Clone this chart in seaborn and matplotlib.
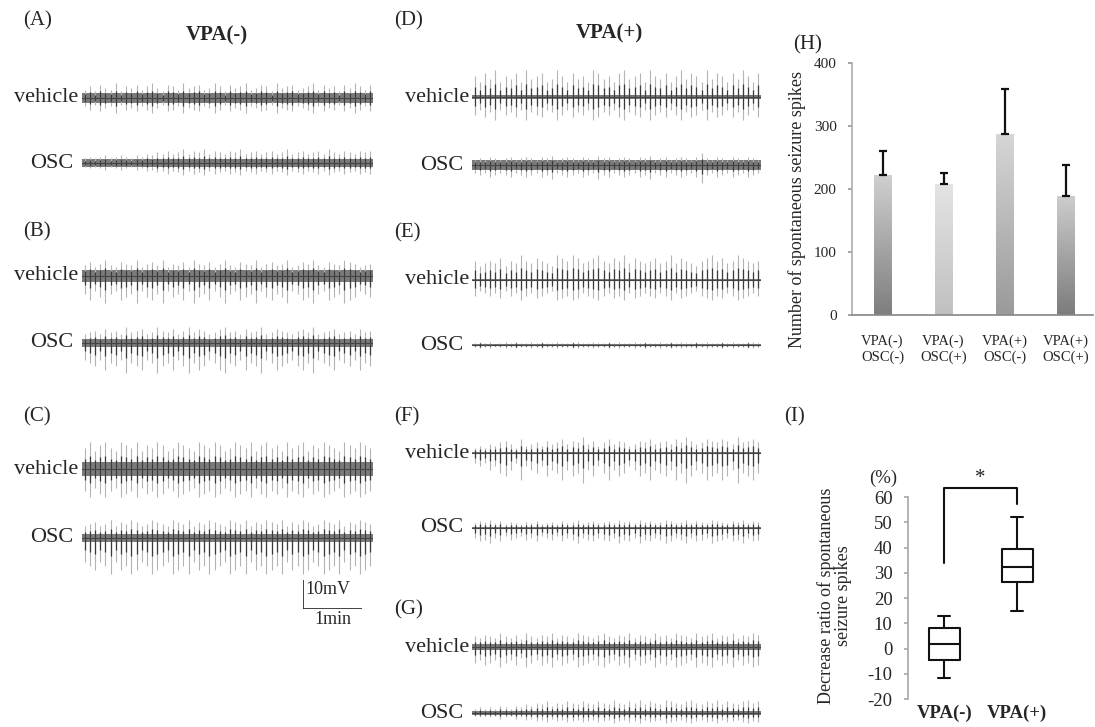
import numpy as np
import matplotlib
matplotlib.use('Agg')
import matplotlib.pyplot as plt
from matplotlib.colors import LinearSegmentedColormap
import pandas as pd
import seaborn as sns

# (H) bar chart values
groups = ['VPA(-)\nOSC(-)', 'VPA(-)\nOSC(+)', 'VPA(+)\nOSC(-)', 'VPA(+)\nOSC(+)']
spike_mean = [223, 208, 287, 189]
spike_sem = [37, 18, 72, 49]

# (I) box plot summary (%)
box_groups = ['VPA(-)', 'VPA(+)']
box_low = [-11.5, 15]
box_q1 = [-4.5, 26.5]
box_med = [2.0, 32.5]
box_q3 = [8.0, 39.5]
box_high = [13.0, 52.0]
bracket = [34, 63.5, 57.5]

# EEG traces: relative spike amplitudes (0-9)
A_vehicle = [5,7,4,8,6,5,9,4,7,6,8,5,7,9,6,4,8,7,5,9,6,7,8,5,6,9,7,4,8,6,7,9,5,6,8,7,4,9,6,7,8,5,6,7,9,5,8,6,7,4,8,6,9,7,5,8]
A_osc = [3,4,3,4,5,3,4,5,4,3,5,4,6,5,7,6,8,6,7,9,6,8,7,9,6,8,7,6,8,7,9,6,7,8,6,7,8,6,7,9,6,7,8,6,7,8,6,9,7,6,8,7,6,8,7,8]
B_vehicle = [6,8,5,7,9,6,5,8,7,6,9,5,7,8,6,9,5,7,6,8,5,9,7,6,8,5,7,9,6,5,8,7,6,9,5,7,8,6,7,9,5,6,8,7,9,6,5,8,7,6,9,8,7,5,6,7]
B_osc = [5,6,7,5,8,6,7,5,9,6,7,8,5,6,9,7,6,8,5,7,9,6,8,7,5,6,8,9,6,7,5,8,6,7,9,5,6,8,7,6,5,7,8,6,9,5,6,7,8,5,6,7,5,8,6,7]
C_vehicle = [7,9,6,8,9,7,6,9,8,7,9,6,8,7,9,8,6,7,9,8,7,6,9,8,7,9,8,6,7,9,8,7,9,6,8,9,7,8,6,9,7,8,9,6,8,7,9,8,7,6,9,8,7,9,8,7]
C_osc = [6,7,8,6,7,9,6,8,7,9,8,6,7,9,8,7,6,9,8,7,9,6,8,7,9,8,7,6,9,8,7,9,6,8,7,9,8,7,9,6,8,7,9,8,6,7,9,8,7,9,6,8,7,9,8,7]
D_vehicle = [7,5,8,6,9,5,7,6,8,5,9,6,7,8,5,6,9,7,5,8,6,7,5,9,8,6,7,5,8,9,6,7,8,5,9,7,6,8,5,7,9,6,8,7,5,9,6,8,7,5,8,6,9,7,5,8]
D_osc = [4,5,4,6,5,4,5,6,4,5,6,5,4,6,5,7,4,5,6,5,4,6,5,4,7,5,6,4,5,6,5,4,6,5,7,4,5,6,4,5,6,5,4,6,9,5,4,6,5,4,6,5,4,6,5,4]
E_vehicle = [7,5,6,7,6,8,5,7,6,9,7,6,8,7,6,5,9,8,7,9,8,6,7,8,9,7,6,8,7,9,6,8,7,6,7,8,6,7,9,6,8,7,6,5,7,8,9,7,8,6,7,9,8,7,6,7]
E_osc = [5,7,4,6,3,5,6,4,7,5,4,6,5,7,4,5,6,4,5,7,6,4,5,6,4,5,7,4,6,5,4,6,5,7,4,5,6,4,7,5,6,4,5,7,4,6,5,4,7,5,6,4,5,7,6,4]
F_vehicle = [3,4,3,5,4,6,7,5,3,8,4,5,6,4,7,5,6,8,5,7,6,9,5,7,4,6,8,5,7,6,4,5,7,6,8,5,6,7,5,8,6,9,7,5,6,8,7,6,8,7,5,9,6,7,8,6]
F_osc = [6,8,7,9,6,8,5,7,6,5,7,6,8,5,6,7,5,8,6,7,9,6,7,8,6,7,8,6,9,7,8,6,9,7,8,6,7,9,8,6,7,9,6,8,7,6,9,8,7,6,8,7,9,6,8,7]
G_vehicle = [7,6,8,7,6,9,7,6,8,5,9,7,6,8,7,9,6,8,7,6,9,8,7,6,8,9,7,6,8,7,9,6,8,7,6,9,7,8,6,9,8,7,6,9,7,8,9,6,8,7,9,6,8,7,9,8]
G_osc = [3,4,3,4,3,5,4,3,5,4,6,5,7,6,8,5,7,6,8,7,6,8,7,6,8,7,6,9,7,6,8,7,9,6,8,7,6,9,8,7,6,8,9,7,6,8,7,9,6,8,7,6,8,9,7,8]

sns.set_theme(style='white')
plt.rcParams['font.family'] = ['Liberation Serif', 'DejaVu Serif']
plt.rcParams['axes.unicode_minus'] = False

W, H = 1095, 727
fig = plt.figure(figsize=(W / 100, H / 100), dpi=100)


def px_axes(x0, y0, w, h):
    return fig.add_axes([x0 / W, 1 - (y0 + h) / H, w / W, h / H])


def draw_trace(amps, x0, yc, w, up, down, band):
    ax = px_axes(x0, yc - 40, w, 80)
    a = np.asarray(amps) / 9
    x = np.arange(len(amps))
    ax.fill_between([-0.5, len(amps) - 0.5], -band, band, color='#7a7a7a', lw=0)
    ax.vlines(x, -a * down, a * up, color='#b4b4b4', lw=0.8)
    ax.vlines(x, -a * down * 0.5, a * up * 0.5, color='#3a3a3a', lw=0.9)
    ax.axhline(0, color='#444444', lw=0.8)
    ax.set_xlim(-0.5, len(amps) - 0.5)
    ax.set_ylim(-40, 40)
    ax.axis('off')


def txt(x, y, s, **kw):
    kw.setdefault('fontsize', 15)
    fig.text(x / W, 1 - y / H, s, **kw)


# left column (VPA-)
txt(23, 21, '(A)', va='center')
txt(217, 35, 'VPA(-)', ha='center', va='center', fontweight='bold')
draw_trace(A_vehicle, 82, 98, 291, 15, 15, 5)
draw_trace(A_osc, 82, 163, 291, 14, 12, 4)
txt(23, 232, '(B)', va='center')
draw_trace(B_vehicle, 82, 276, 291, 16, 27, 6)
draw_trace(B_osc, 82, 343, 291, 16, 30, 4)
txt(23, 417, '(C)', va='center')
draw_trace(C_vehicle, 82, 469, 291, 27, 28, 7)
draw_trace(C_osc, 82, 538, 291, 18, 36, 4)
for y, lab, xr in [(98, 'vehicle', 78), (163, 'OSC', 73), (276, 'vehicle', 78), (343, 'OSC', 73),
                   (469, 'vehicle', 78), (538, 'OSC', 73)]:
    txt(xr, y, lab, ha='right', va='center', fontsize=16)

# scale bar
sb = px_axes(303, 580, 59, 29)
sb.plot([0, 0, 1], [10, 0, 0], color='#222222', lw=1.2)
sb.set_xlim(0, 1)
sb.set_ylim(0, 10)
sb.axis('off')
txt(305, 590, '10mV', va='center', fontsize=13)
txt(333, 619, '1min', ha='center', va='center', fontsize=13)

# middle column (VPA+)
txt(394, 21, '(D)', va='center')
txt(609, 33, 'VPA(+)', ha='center', va='center', fontweight='bold')
draw_trace(D_vehicle, 472, 97, 289, 27, 23, 2)
draw_trace(D_osc, 472, 165, 289, 12, 18, 5)
txt(394, 233, '(E)', va='center')
draw_trace(E_vehicle, 472, 280, 289, 25, 20, 1)
draw_trace(E_osc, 472, 345, 289, 4, 4, 0.6)
txt(394, 417, '(F)', va='center')
draw_trace(F_vehicle, 472, 453, 289, 16, 30, 1)
draw_trace(F_osc, 472, 528, 289, 8, 15, 1)
txt(394, 610, '(G)', va='center')
draw_trace(G_vehicle, 472, 647, 289, 14, 20, 3)
draw_trace(G_osc, 472, 713, 289, 13, 10, 2)
for y, lab, xr in [(97, 'vehicle', 469), (165, 'OSC', 463), (280, 'vehicle', 469), (345, 'OSC', 463),
                   (453, 'vehicle', 469), (528, 'OSC', 463), (647, 'vehicle', 469), (713, 'OSC', 463)]:
    txt(xr, y, lab, ha='right', va='center', fontsize=16)

# (H) bar chart
axh = px_axes(852, 63, 241, 252)
dfh = pd.DataFrame({'group': groups, 'spikes': spike_mean})
sns.barplot(data=dfh, x='group', y='spikes', ax=axh, width=0.28, color='#aaaaaa', linewidth=0)
axh.errorbar(range(len(groups)), spike_mean, yerr=[[0] * len(groups), spike_sem], fmt='none',
             ecolor='#111111', elinewidth=1.6, capsize=3, capthick=1.6, zorder=3)
shades = [('#7e7e7e', '#d0d0d0'), ('#c0c0c0', '#e4e4e4'), ('#9a9a9a', '#d6d6d6'), ('#7c7c7c', '#cdcdcd')]
grad = np.linspace(0, 1, 128).reshape(-1, 1)
for p, (lo, hi) in zip(axh.patches, shades):
    bb = p.get_bbox()
    im = axh.imshow(grad, extent=[bb.x0, bb.x1, bb.y0, bb.y1], origin='lower', aspect='auto',
                    cmap=LinearSegmentedColormap.from_list('g', [lo, hi]), zorder=2)
    im.set_clip_path(p)
axh.set_xlim(-0.5, 3.45)
axh.set_ylim(0, 400)
axh.set_yticks([0, 100, 200, 300, 400])
axh.set_xlabel('')
axh.set_ylabel('')
axh.tick_params(axis='y', labelsize=11, length=3, pad=8, color='#999999', left=True)
axh.tick_params(axis='x', labelsize=10.5, length=0, pad=14)
for lab in axh.get_xticklabels():
    lab.set_linespacing(1.25)
for s in ['top', 'right']:
    axh.spines[s].set_visible(False)
axh.spines['left'].set_color('#b0b0b0')
axh.spines['bottom'].set_color('#8a8a8a')
axh.patch.set_alpha(0)
txt(793, 45, '(H)', va='center')
txt(797, 210, 'Number of spontaneous seizure spikes', rotation=90, ha='center', va='center', fontsize=13)

# (I) box plot
axi = px_axes(907.7, 467, 146, 232)
stats = [dict(label=g, whislo=lo, q1=a, med=m, q3=b, whishi=hi)
         for g, lo, a, m, b, hi in zip(box_groups, box_low, box_q1, box_med, box_q3, box_high)]
lp = dict(color='#111111', linewidth=1.5)
axi.bxp(stats, positions=[0, 1], widths=0.42, showfliers=False, boxprops=lp, whiskerprops=lp,
        capprops=lp, medianprops=lp, capwidths=0.16)
axi.plot([0, 0, 1, 1], [bracket[0], bracket[1], bracket[1], bracket[2]], color='#111111', lw=1.5)
axi.text(0.5, 67.5, '*', ha='center', va='center', fontsize=15)
axi.set_xlim(-0.5, 1.5)
axi.set_ylim(-20, 72)
axi.set_yticks(range(-20, 61, 10))
axi.spines['left'].set_bounds(-20, 60)
axi.spines['left'].set_color('#aaaaaa')
for s in ['top', 'right', 'bottom']:
    axi.spines[s].set_visible(False)
axi.tick_params(axis='y', labelsize=13.5, length=3, pad=8, color='#aaaaaa', left=True)
axi.tick_params(axis='x', labelsize=13.5, length=0, pad=4)
for lab in axi.get_xticklabels():
    lab.set_fontweight('bold')
axi.patch.set_alpha(0)
txt(784, 417, '(I)', va='center')
txt(883, 478, '(%)', ha='center', va='center', fontsize=13.5)
txt(835, 596, 'Decrease ratio of spontaneous\nseizure spikes', rotation=90, ha='center',
    va='center', fontsize=13, linespacing=1.0)

fig.savefig('out.png', dpi=100)
